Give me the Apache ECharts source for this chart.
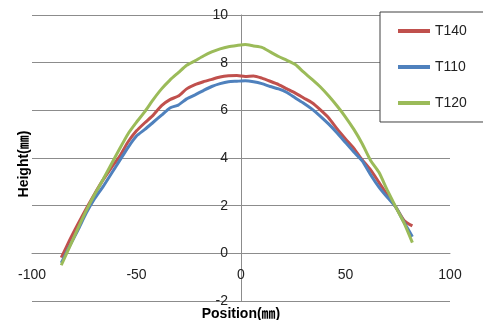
<!DOCTYPE html>
<html>
<head>
<meta charset="utf-8">
<script src="https://cdn.jsdelivr.net/npm/echarts@6/dist/echarts.min.js"></script>
<style>
  html, body { margin: 0; padding: 0; background: #fff; }
  #chart { width: 483px; height: 320px; }
</style>
</head>
<body>
<div id="chart"></div>
<script>
// positions (mm) shared by all three measurements
const positions = [-86, -82, -78, -74, -70, -66, -62, -58, -54, -50, -46, -42, -38, -34, -30, -26, -22, -18, -14, -10, -6, -2,
  2, 6, 10, 14, 18, 22, 26, 30, 34, 38, 42, 46, 50, 54, 58, 62, 66, 70, 74, 78, 82]

const t140 = [-0.18, 0.55, 1.23, 1.88, 2.5, 3.08, 3.6, 4.08, 4.68, 5.14, 5.48, 5.8, 6.2, 6.45, 6.6, 6.9, 7.08, 7.2, 7.3, 7.4, 7.45, 7.46,
  7.42, 7.44, 7.35, 7.22, 7.08, 6.9, 6.72, 6.52, 6.32, 6.02, 5.68, 5.22, 4.8, 4.4, 3.92, 3.5, 2.98, 2.45, 1.95, 1.38, 1.15]

const t110 = [-0.4, 0.3, 0.98, 1.7, 2.3, 2.8, 3.35, 3.9, 4.45, 4.92, 5.2, 5.5, 5.8, 6.1, 6.22, 6.48, 6.65, 6.83, 7.0, 7.12, 7.2, 7.22,
  7.24, 7.2, 7.12, 7.0, 6.9, 6.75, 6.52, 6.3, 6.05, 5.75, 5.42, 5.05, 4.65, 4.25, 3.88, 3.3, 2.78, 2.35, 1.95, 1.3, 0.7]

const t120 = [-0.5, 0.27, 1.05, 1.8, 2.48, 3.1, 3.75, 4.4, 5.02, 5.5, 5.95, 6.45, 6.9, 7.27, 7.58, 7.89, 8.08, 8.28, 8.45, 8.58, 8.67, 8.72,
  8.76, 8.7, 8.64, 8.45, 8.26, 8.1, 7.92, 7.6, 7.3, 6.98, 6.6, 6.18, 5.72, 5.2, 4.6, 3.9, 3.4, 2.65, 1.95, 1.28, 0.45]

const seriesNames = ['T140', 'T110', 'T120']
const seriesColors = ['#C0504D', '#4F81BD', '#9BBB59']
const seriesValues = [t140, t110, t120]

const font = '"Liberation Sans", "Noto Sans CJK JP", sans-serif'
const gridColor = '#8c8c8c'

const chart = echarts.init(document.getElementById('chart'))

// the axes cross at (0, 0): shift them into the plot with offset
const yAxisOffset = -209
const xAxisOffset = -48

const option = {
  animation: false,
  backgroundColor: '#fff',
  grid: {
    left: 32,
    right: 33,
    top: 15,
    bottom: 19,
    containLabel: false,
    outerBoundsMode: 'none',
  },
  legend: {
    orient: 'vertical',
    left: 380,
    top: 12,
    padding: [12, 60, 12, 18],
    itemGap: 22,
    itemWidth: 32,
    itemHeight: 4,
    icon: 'rect',
    backgroundColor: '#fff',
    borderColor: '#404040',
    borderWidth: 1,
    borderRadius: 0,
    textStyle: { fontFamily: font, fontSize: 14, color: '#222', padding: [0, 0, 0, 0] },
    data: seriesNames,
  },
  xAxis: {
    type: 'value',
    min: -100,
    max: 100,
    interval: 50,
    position: 'bottom',
    offset: xAxisOffset,
    name: 'Position(㎜)',
    nameLocation: 'middle',
    nameGap: 54,
    nameTextStyle: { fontFamily: font, fontSize: 14, fontWeight: 'bold', color: '#000' },
    axisLine: { show: true, onZero: false, lineStyle: { color: gridColor, width: 1 } },
    axisTick: { show: false },
    splitLine: { show: false },
    axisLabel: { fontFamily: font, fontSize: 14, color: '#222', margin: 15 },
  },
  yAxis: {
    type: 'value',
    min: -2,
    max: 10,
    interval: 2,
    position: 'left',
    offset: yAxisOffset,
    name: 'Height(㎜)',
    nameLocation: 'middle',
    nameRotate: 90,
    nameGap: 210,
    nameTextStyle: { fontFamily: font, fontSize: 14, fontWeight: 'bold', color: '#000', padding: [0, 12, 0, 0] },
    axisLine: { show: true, onZero: false, lineStyle: { color: gridColor, width: 1 } },
    axisTick: { show: false },
    splitLine: { show: true, lineStyle: { color: gridColor, width: 1 } },
    axisLabel: { fontFamily: font, fontSize: 14, color: '#222', margin: 13 },
  },
  series: seriesNames.map((name, i) => ({
    name: name,
    type: 'line',
    symbol: 'none',
    smooth: 0.2,
    color: seriesColors[i],
    lineStyle: { width: 3, color: seriesColors[i] },
    data: positions.map((x, j) => [x, seriesValues[i][j]]),
  })),
}

chart.setOption(option)
</script>
</body>
</html>
